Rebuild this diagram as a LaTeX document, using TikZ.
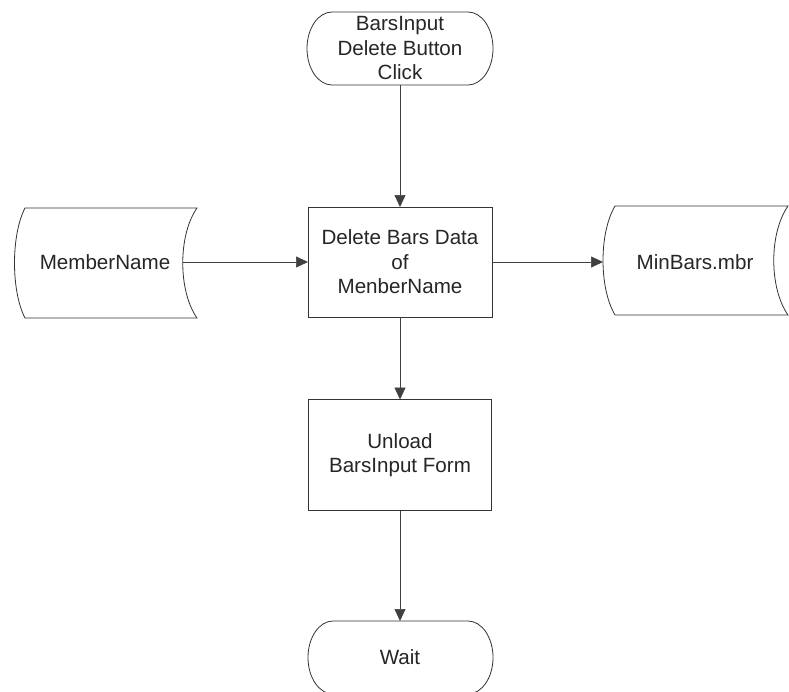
\documentclass[tikz,border=0pt]{standalone}
\usepackage{fontspec}
\setmainfont{Liberation Sans}
\usetikzlibrary{arrows.meta}
\begin{document}
\begin{tikzpicture}[x=1pt,y=-1pt,
  outline/.style={draw=black!80,line width=0.8pt},
  label/.style={inner sep=0pt,outer sep=0pt,align=center,text=black!85,
    font=\fontsize{20.6}{24.5}\selectfont},
  flow/.style={draw=black!75,line width=0.7pt,-{Triangle[length=12pt,width=11pt]}}]
\useasboundingbox[fill=white] (0,0) rectangle (789,691);

% --- outlines of the flowchart symbols (y axis points down here) ---
% start terminator
\draw[outline] (332,12) -- (468,12)
  arc[start angle=-90,end angle=90,x radius=25,y radius=36.5]
  -- (332,85)
  arc[start angle=90,end angle=270,x radius=25,y radius=36.5] -- cycle;
% end terminator
\draw[outline] (333,621) -- (468,621)
  arc[start angle=-90,end angle=90,x radius=25,y radius=36.5]
  -- (333,694)
  arc[start angle=90,end angle=270,x radius=25,y radius=36.5] -- cycle;
% stored data: MemberName
\draw[outline] (25,208) -- (197,208)
  .. controls (178,235) and (178,291) .. (197,318)
  -- (25,318)
  .. controls (11,291) and (11,235) .. (25,208) -- cycle;
% stored data: MinBars.mbr
\draw[outline] (615,206) -- (788,206)
  .. controls (769,233) and (769,288) .. (788,315)
  -- (615,315)
  .. controls (599,288) and (599,233) .. (615,206) -- cycle;

% --- nodes ---
\node[label,minimum width=186pt,minimum height=73pt] (start) at (400,48.5)
  {BarsInput\\Delete Button\\Click};
\node[label,outline,minimum width=184pt,minimum height=110pt] (delete) at (400,262)
  {Delete Bars Data\\of\\MenberName};
\node[label,minimum width=156pt,minimum height=100pt] (member) at (105,262)
  {MemberName};
\node[label,minimum width=184pt,minimum height=100pt] (minbars) at (695,262)
  {MinBars.mbr};
\node[label,outline,minimum width=183pt,minimum height=111pt] (unload) at (400,455)
  {Unload\\BarsInput Form};
\node[label,minimum width=186pt,minimum height=73pt] (wait) at (400,657.5)
  {Wait};

% --- connectors ---
\draw[flow] (start) -- (delete);
\draw[flow] (member) -- (delete);
\draw[flow] (delete) -- (minbars);
\draw[flow] (delete) -- (unload);
\draw[flow] (unload) -- (wait);
\end{tikzpicture}
\end{document}
